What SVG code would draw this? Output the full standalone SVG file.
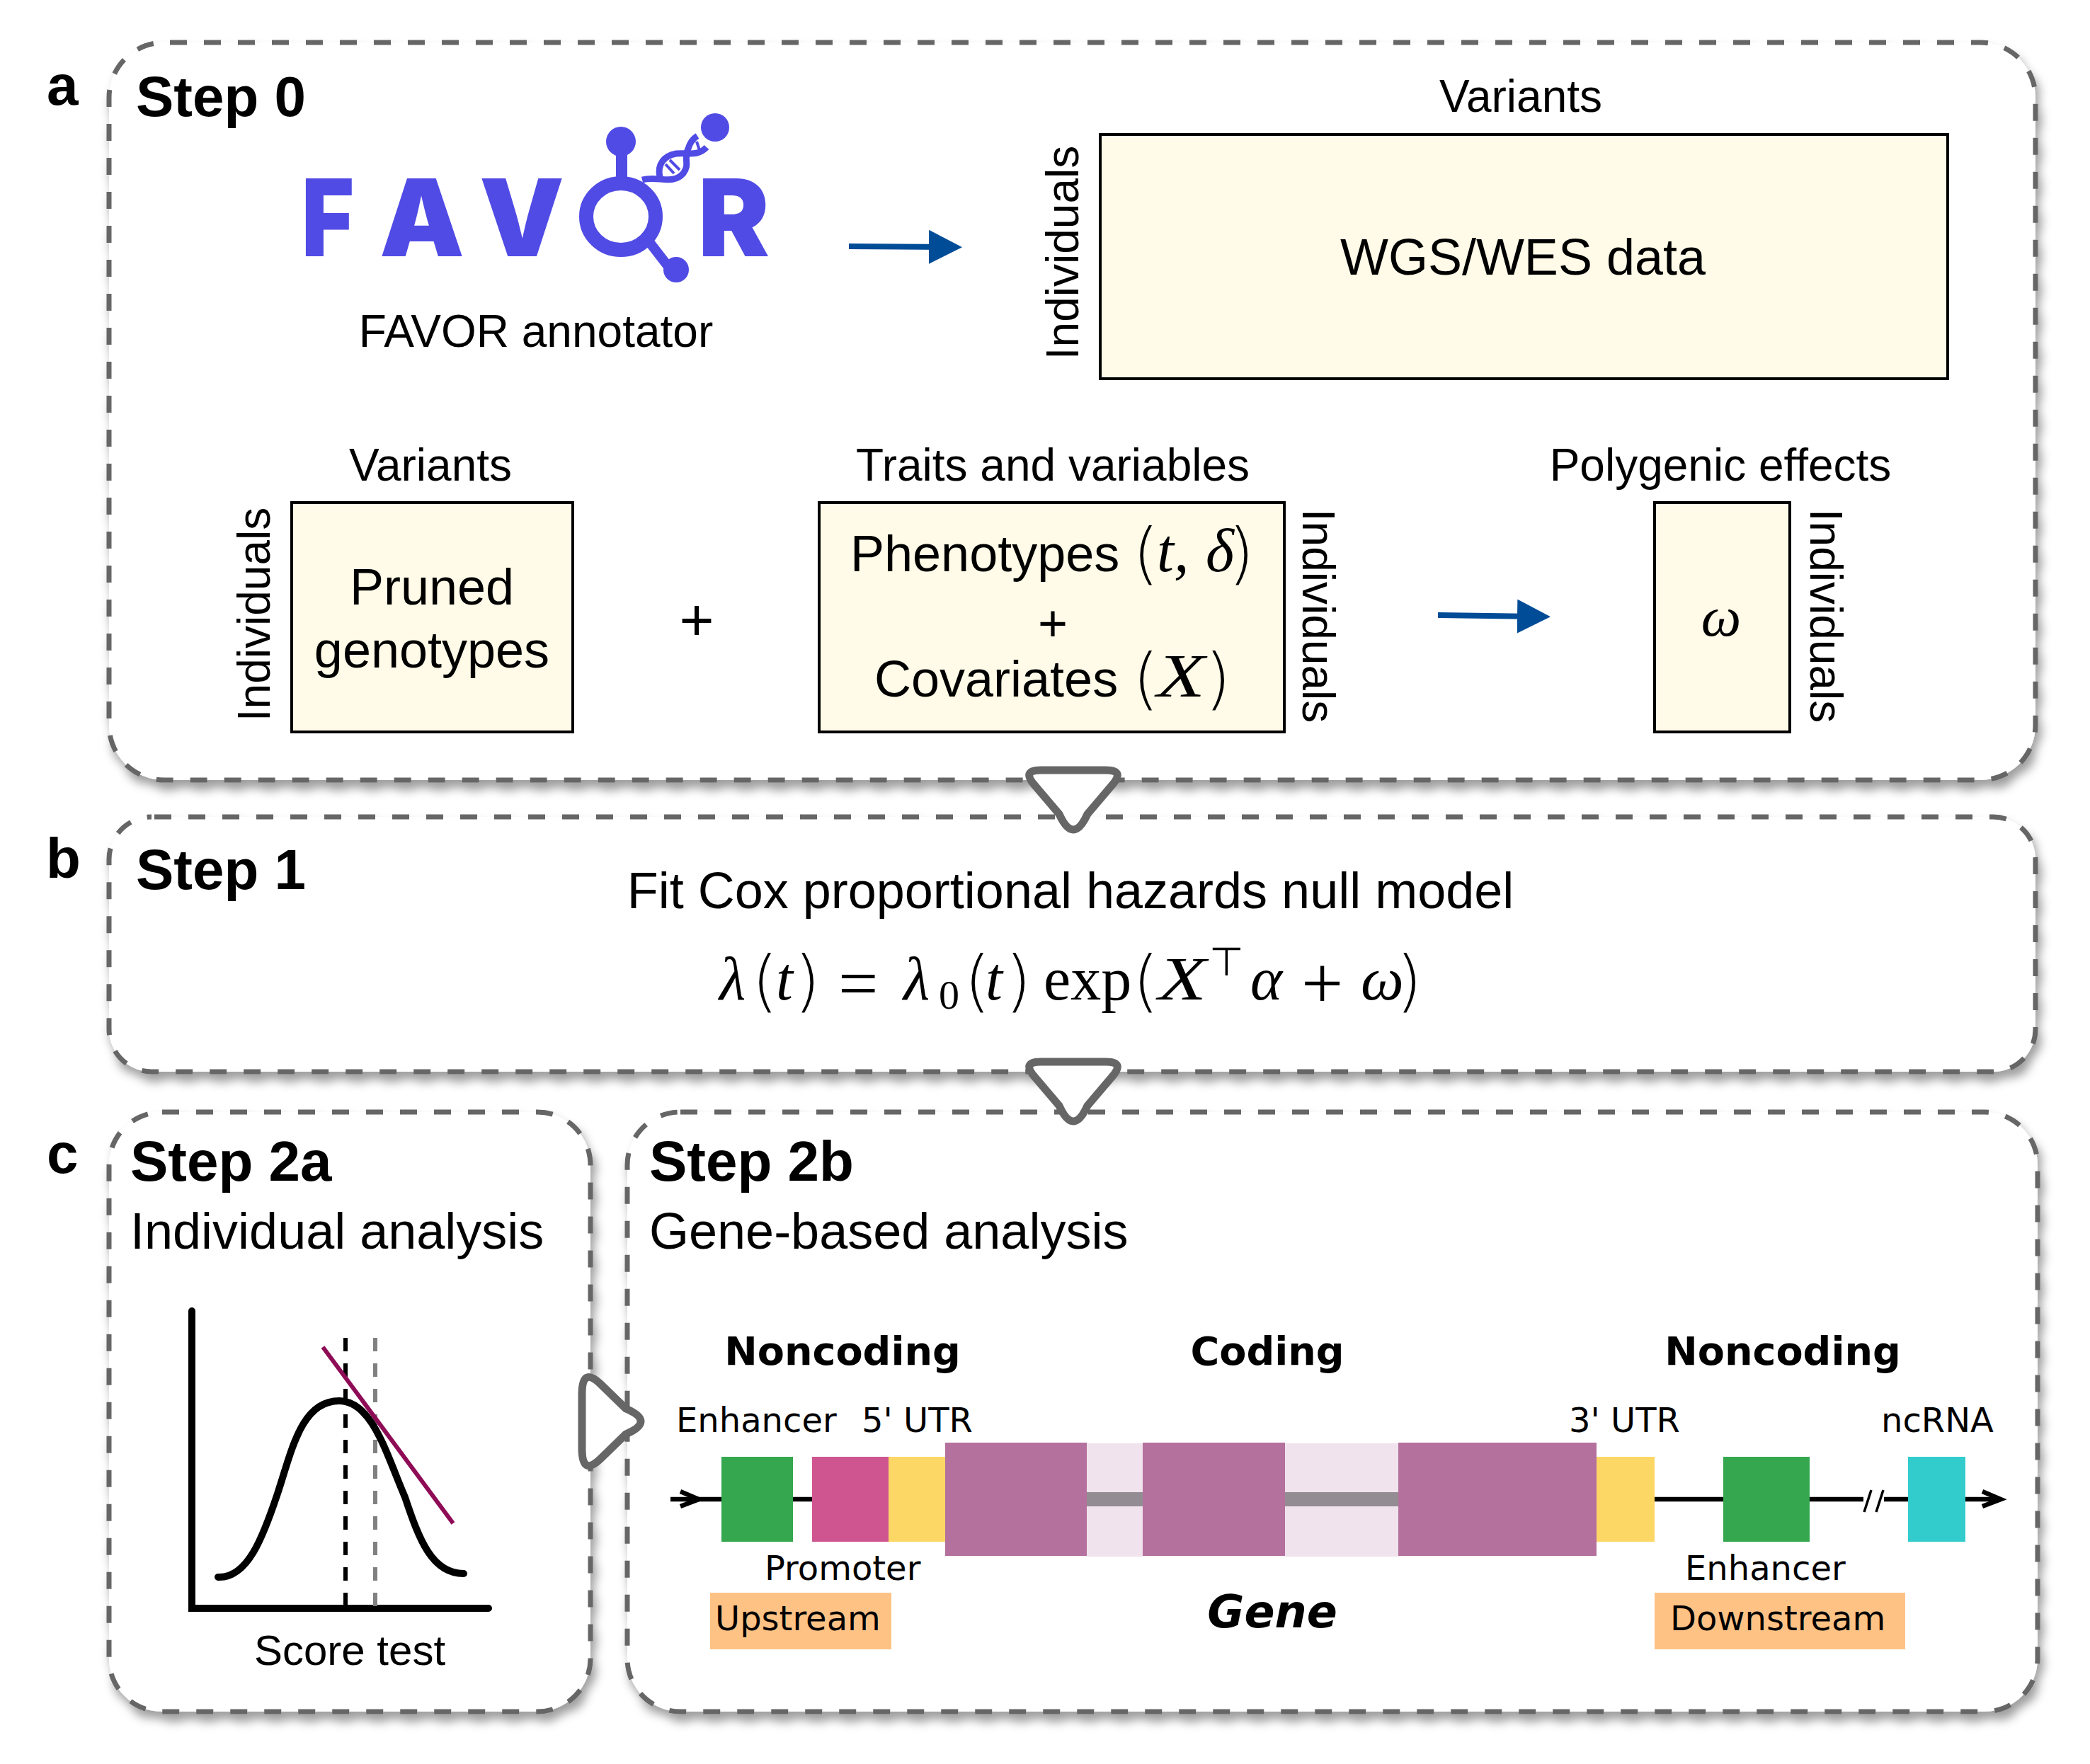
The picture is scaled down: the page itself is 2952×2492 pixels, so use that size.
<svg xmlns="http://www.w3.org/2000/svg" width="2952" height="2492" viewBox="0 0 2952 2492">
<style>
text{font-family:"Liberation Sans",Arial,sans-serif;fill:#000}
.t62{font-size:64px}.t71{font-size:72px}.c{text-anchor:middle}
.h{font-size:80px;font-weight:700}
.m{font-family:"Liberation Serif","Times New Roman",serif;font-size:86px}
.p{font-family:"DejaVu Sans",sans-serif;font-size:94px;font-weight:200}
.i{font-style:italic}
.d{font-family:"DejaVu Sans",sans-serif;font-size:48px}
.db{font-family:"DejaVu Sans",sans-serif;font-size:55.6px;font-weight:700}
.logo{font-family:"Inter","Liberation Sans",sans-serif;font-size:151px;font-weight:900;fill:#514BE5}
.panel{fill:#fff;stroke:#666;stroke-width:7;stroke-dasharray:24 24;filter:url(#sh)}
.box{fill:#FFFBE8;stroke:#000;stroke-width:4}
.tri{fill:#fff;stroke:#666;stroke-width:11;stroke-linejoin:round}
.bl{fill:none;stroke:#004C97;stroke-width:8}
.gl{fill:none;stroke:#000;stroke-width:6.5}
.lg{fill:#514BE5}
</style>
<defs>
<filter id="sh" x="-5%" y="-5%" width="110%" height="115%"><feDropShadow dx="5" dy="11" stdDeviation="7" flood-color="#000" flood-opacity=".38"/></filter>
<marker id="ah" viewBox="0 0 48 48" markerUnits="userSpaceOnUse" markerWidth="48" markerHeight="48" refX="27" refY="24" orient="auto"><path d="M0 0L47 24L0 48Z" fill="#004C97"/></marker>
<path id="dn" d="M1470,1088H1562Q1590,1088 1570,1110L1536,1150Q1516,1194 1496,1150L1462,1110Q1442,1088 1470,1088Z" class="tri"/>
</defs>

<g id="panel-a"><rect class="panel" x="154" y="60" width="2721" height="1042" rx="78" ry="78" stroke-dashoffset="40"/></g>
<g id="panel-b"><rect class="panel" x="154" y="1154" width="2721" height="360" rx="60" ry="60" stroke-dashoffset="44"/></g>
<g id="panel-c1"><rect class="panel" x="154" y="1571" width="680" height="847" rx="75" ry="75"/></g>
<g id="panel-c2"><rect class="panel" x="886" y="1571" width="1992" height="847" rx="75" ry="75"/></g>

<g id="labels">
<text class="h" x="66" y="148">a</text>
<text class="h" x="65" y="1240">b</text>
<text class="h" x="66" y="1657">c</text>
<text class="h" x="192" y="164">Step 0</text>
<text class="h" x="192" y="1256">Step 1</text>
<text class="h" x="184" y="1668">Step 2a</text>
<text class="h" x="917" y="1668">Step 2b</text>
<text x="184" y="1764" style="font-size:72px">Individual analysis</text>
<text x="917" y="1764" style="font-size:72px">Gene-based analysis</text>
</g>

<g id="favor-logo">
<text class="logo" x="426" y="362" textLength="74" lengthAdjust="spacingAndGlyphs">F</text>
<text class="logo" x="536" y="362">A</text>
<text class="logo" x="677" y="362">V</text>
<text class="logo" x="986" y="362">R</text>
<ellipse cx="877" cy="306" rx="49" ry="47" fill="#fff" stroke="#514BE5" stroke-width="20"/>
<circle class="lg" cx="877" cy="200" r="21"/>
<rect class="lg" x="870" y="215" width="16" height="36"/>
<circle class="lg" cx="1010" cy="180" r="20"/>
<circle class="lg" cx="955" cy="381" r="18"/>
<path d="M918,343L945,378" stroke="#514BE5" stroke-width="14" fill="none"/>
<path d="M907,254C930,248 950,262 965,245C975,232 965,225 972,210C975,200 980,195 985,192" fill="none" stroke="#514BE5" stroke-width="9"/>
<path d="M932,250C928,232 938,220 955,217C970,215 985,222 998,208" fill="none" stroke="#514BE5" stroke-width="9"/>
<path d="M940,232L952,245M946,226L960,240M984,200L988,212" stroke="#514BE5" stroke-width="4"/>
<text class="t62 c" x="757" y="490">FAVOR annotator</text>
</g>

<g id="wgs">
<text class="t62 c" x="2148" y="158">Variants</text>
<rect class="box" x="1554" y="190" width="1197" height="345"/>
<text class="c" x="2151" y="388" style="font-size:72px">WGS/WES data</text>
<text class="t62 c" transform="translate(1523 357) rotate(-90)">Individuals</text>
</g>

<g id="pruned">
<text class="t62 c" x="608" y="679">Variants</text>
<rect class="box" x="412" y="710" width="397" height="324"/>
<text class="t71 c" x="610" y="854">Pruned</text>
<text class="t71 c" x="610" y="943">genotypes</text>
<text class="t62 c" transform="translate(381 868) rotate(-90)">Individuals</text>
</g>

<text id="plus" class="c" x="984" y="904" style="font-size:84px">+</text>

<g id="traits">
<text class="t62 c" x="1487" y="679">Traits and variables</text>
<rect class="box" x="1157" y="710" width="657" height="324"/>
<text class="t71" x="1201" y="807">Phenotypes</text>
<text class="p" x="1600" y="814">(</text>
<text class="m i" x="1634" y="807">t,</text>
<text class="m i" x="1703" y="807">δ</text>
<text class="p" x="1735" y="814">)</text>
<text class="t71 c" x="1487" y="905">+</text>
<text class="t71" x="1235" y="984">Covariates</text>
<text class="p" x="1600" y="991">(</text>
<text class="m i" x="1634" y="984" textLength="68" lengthAdjust="spacingAndGlyphs">X</text>
<text class="p" x="1702" y="991">)</text>
<text class="t62 c" transform="translate(1840 870) rotate(90)">Individuals</text>
</g>

<g id="polygenic">
<text class="t62 c" x="2430" y="679">Polygenic effects</text>
<rect class="box" x="2337" y="710" width="191" height="324"/>
<text class="m i c" x="2431" y="898" style="font-size:80px">ω</text>
<text class="t62 c" transform="translate(2557 870) rotate(90)">Individuals</text>
</g>

<g id="model">
<text class="c" x="1512" y="1283" style="font-size:72px">Fit Cox proportional hazards null model</text>
<text class="m i" x="1016" y="1412">λ</text>
<text class="p" x="1062" y="1418">(</text>
<text class="m i" x="1096" y="1412">t</text>
<text class="p" x="1122" y="1418">)</text>
<text class="m" x="1184" y="1423" style="font-size:100px">=</text>
<text class="m i" x="1276" y="1412">λ</text>
<text x="1326" y="1425" style="font-family:'Liberation Serif',serif;font-size:58px">0</text>
<text class="p" x="1362" y="1418">(</text>
<text class="m i" x="1392" y="1412">t</text>
<text class="p" x="1420" y="1418">)</text>
<text class="m" x="1474" y="1412">exp</text>
<text class="p" x="1600" y="1418">(</text>
<text class="m i" x="1636" y="1412" textLength="68" lengthAdjust="spacingAndGlyphs">X</text>
<text x="1708" y="1378" style="font-family:'DejaVu Sans',sans-serif;font-size:56px;font-weight:200">⊤</text>
<text class="m i" x="1766" y="1412">α</text>
<text class="m" x="1838" y="1425" style="font-size:105px">+</text>
<text class="m i" x="1922" y="1412">ω</text>
<text class="p" x="1972" y="1418">)</text>
</g>

<g id="score-plot">
<path d="M271,1852V2272H690" fill="none" stroke="#000" stroke-width="10" stroke-linecap="round"/>
<path d="M488,1890V2270" stroke="#000" stroke-width="6" stroke-dasharray="19 17" fill="none"/>
<path d="M530,1890V2270" stroke="#808080" stroke-width="6" stroke-dasharray="19 17" fill="none"/>
<path d="M308,2228C350,2230 372,2170 392,2110C412,2050 425,1979 479,1979C526,1979 546,2055 572,2115C592,2175 610,2223 655,2223" fill="none" stroke="#000" stroke-width="10" stroke-linecap="round"/>
<path d="M456,1903L640,2152" stroke="#8E0B56" stroke-width="6" fill="none"/>
<text class="c" x="494" y="2352" style="font-size:60px">Score test</text>
</g>

<g id="gene-model">
<text class="db c" x="1190" y="1928">Noncoding</text>
<text class="db c" x="1790" y="1928">Coding</text>
<text class="db c" x="2518" y="1928">Noncoding</text>
<text class="d" x="955" y="2023">Enhancer</text>
<text class="d" x="1217" y="2023">5' UTR</text>
<text class="d" x="2216" y="2023">3' UTR</text>
<text class="d" x="2657" y="2023">ncRNA</text>
<text class="d" x="1080" y="2232">Promoter</text>
<text class="d" x="2380" y="2232">Enhancer</text>
<rect x="1003" y="2250" width="256" height="80" fill="#FFC285"/>
<rect x="2337" y="2250" width="354" height="80" fill="#FFC285"/>
<text class="d" x="1010" y="2303">Upstream</text>
<text class="d" x="2359" y="2303">Downstream</text>
<text class="c" x="1797" y="2299" style="font-family:'DejaVu Sans',sans-serif;font-size:63.5px;font-weight:700;font-style:italic">Gene</text>
<rect x="1535" y="2039" width="79" height="160" fill="#F0E3ED"/>
<rect x="1815" y="2039" width="160" height="160" fill="#F0E3ED"/>
<rect x="1535" y="2108" width="440" height="20" fill="#948C93"/>
<rect x="1335" y="2038" width="200" height="160" fill="#B5719D"/>
<rect x="1614" y="2038" width="201" height="160" fill="#B5719D"/>
<rect x="1975" y="2038" width="280" height="160" fill="#B5719D"/>
</g>

<g id="connectors">
<path class="bl" d="M1199,348L1339,349" marker-end="url(#ah)"/>
<path class="bl" d="M2031,869L2170,871" marker-end="url(#ah)"/>
<use href="#dn"/>
<use href="#dn" y="412"/>
<path class="tri" d="M822,1970V2046Q822,2086 848,2061L884,2026Q926,2008 884,1990L848,1955Q822,1930 822,1970Z"/>
<path class="gl" d="M947,2118H1019M1120,2118H1147M2337,2118H2434M2556,2118H2632M2661,2118H2695M2776,2118H2824"/>
<path class="gl" d="M961,2107L987,2118L961,2128" stroke-width="5"/>
<path class="gl" d="M2800,2107L2826,2118L2800,2128"/>
<path d="M2633,2136L2643,2105M2650,2136L2660,2105" fill="none" stroke="#000" stroke-width="3.5"/>
</g>

<g id="gene-features">
<rect x="1019" y="2058" width="101" height="120" fill="#34A74F"/>
<rect x="1147" y="2058" width="108" height="120" fill="#CF5590"/>
<rect x="1255" y="2058" width="80" height="120" fill="#FDD766"/>
<rect x="2255" y="2058" width="82" height="120" fill="#FDD766"/>
<rect x="2434" y="2058" width="122" height="120" fill="#34A74F"/>
<rect x="2695" y="2058" width="81" height="120" fill="#33CCCC"/>
</g>
</svg>
